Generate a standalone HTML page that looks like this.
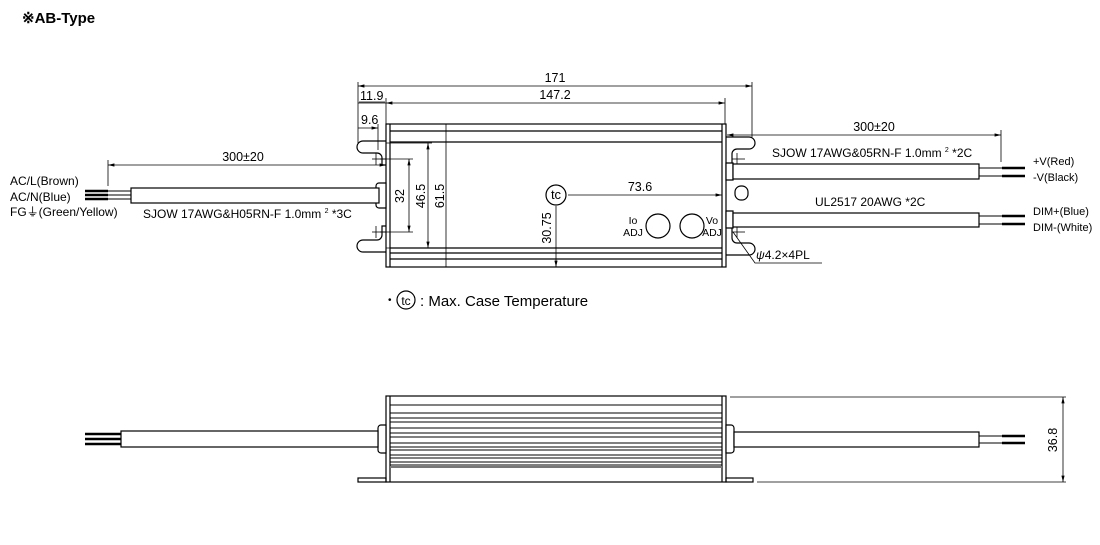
<!DOCTYPE html>
<html><head><meta charset="utf-8"><style>
html,body{margin:0;padding:0;background:#fff;}
svg{display:block;font-family:"Liberation Sans",Arial,sans-serif;}
</style></head><body>
<svg width="1100" height="545" viewBox="0 0 1100 545" xmlns="http://www.w3.org/2000/svg">
<defs>
<marker id="a" viewBox="0 0 10 6" refX="10" refY="3" markerWidth="8" markerHeight="5" orient="auto-start-reverse"><path d="M0,0.5L10,3L0,5.5z" fill="#000" stroke="none"/></marker>
</defs>
<text x="22" y="23" font-size="15" font-weight="bold">※AB-Type</text>
<g stroke="#000" fill="none" stroke-width="1.2">
<rect x="386" y="124" width="340" height="143" fill="#fff"/>
<line x1="390" y1="124" x2="390" y2="267"/><line x1="722" y1="124" x2="722" y2="267"/>
<line x1="390" y1="131" x2="722" y2="131"/><line x1="390" y1="142" x2="722" y2="142"/>
<line x1="390" y1="248" x2="722" y2="248"/><line x1="390" y1="253" x2="722" y2="253"/><line x1="390" y1="259" x2="722" y2="259"/>
<line x1="446" y1="124" x2="446" y2="267" stroke-width="0.8"/>
<path d="M386,141 H363 a6,6 0 0 0 0,12 H377 a5,5 0 0 1 5,5 V165 H386"/>
<path d="M386,252 H363 a6,6 0 0 1 0,-12 H377 a5,5 0 0 0 5,-5 V226 H386"/>
<path d="M379,183 h7 v25 h-7 a3,3 0 0 1 -3,-3 v-19 a3,3 0 0 1 3,-3z" fill="#fff"/>
<line x1="372" y1="159" x2="386" y2="159" stroke-width="0.8"/><line x1="376" y1="153" x2="376" y2="165" stroke-width="0.8"/>
<line x1="372" y1="232" x2="386" y2="232" stroke-width="0.8"/><line x1="376" y1="226" x2="376" y2="238" stroke-width="0.8"/>
<path d="M726,137 H749 a6,6 0 0 1 0,12 H737 a5,5 0 0 0 -5,5 V165 H726"/>
<path d="M726,255 H749 a6,6 0 0 0 0,-12 H737 a5,5 0 0 1 -5,-5 V226 H726"/>
<rect x="735" y="186" width="13" height="14" rx="6"/>
<path d="M733,163 h-7 v17 h7z" fill="#fff"/><path d="M733,211 h-7 v17 h7z" fill="#fff"/>
<line x1="732" y1="159" x2="745" y2="159" stroke-width="0.8"/><line x1="737" y1="153" x2="737" y2="165" stroke-width="0.8"/>
<line x1="732" y1="232" x2="745" y2="232" stroke-width="0.8"/><line x1="737" y1="226" x2="737" y2="238" stroke-width="0.8"/>
<g stroke-width="0.8">
<line x1="358" y1="86" x2="752" y2="86" marker-start="url(#a)" marker-end="url(#a)"/>
<line x1="358" y1="82" x2="358" y2="143"/><line x1="752" y1="82" x2="752" y2="137"/>
<line x1="386" y1="103" x2="725" y2="103" marker-start="url(#a)" marker-end="url(#a)"/>
<line x1="386" y1="98" x2="386" y2="124"/><line x1="725" y1="98" x2="725" y2="124"/>
<line x1="358" y1="103" x2="386" y2="103"/>
<line x1="358" y1="128" x2="378" y2="128" marker-end="url(#a)"/>
<line x1="378" y1="124" x2="378" y2="150"/>
<line x1="386" y1="143" x2="432" y2="143"/><line x1="386" y1="248" x2="432" y2="248"/>
<line x1="428" y1="143" x2="428" y2="248" marker-start="url(#a)" marker-end="url(#a)"/>
<line x1="380" y1="159" x2="413" y2="159"/><line x1="380" y1="232" x2="413" y2="232"/>
<line x1="409" y1="159" x2="409" y2="232" marker-start="url(#a)" marker-end="url(#a)"/>
<line x1="568" y1="195" x2="722" y2="195" marker-end="url(#a)"/>
<line x1="556" y1="206" x2="556" y2="267" marker-end="url(#a)"/>
<line x1="108" y1="165" x2="386" y2="165" marker-start="url(#a)" marker-end="url(#a)"/>
<line x1="108" y1="160" x2="108" y2="186"/>
<line x1="727" y1="135" x2="1001" y2="135" marker-start="url(#a)" marker-end="url(#a)"/>
<line x1="1001" y1="130" x2="1001" y2="162"/>
<polyline points="733,232 755,263 822,263"/>
</g>
<circle cx="556" cy="195" r="10"/>
<circle cx="658" cy="226" r="12"/><circle cx="692" cy="226" r="12"/>
<rect x="131" y="188" width="248" height="15" fill="#fff"/>
<g stroke-width="1"><line x1="85" y1="191" x2="131" y2="191"/><line x1="85" y1="195" x2="131" y2="195"/><line x1="85" y1="199" x2="131" y2="199"/></g>
<g stroke-width="2.5"><line x1="85" y1="191" x2="108" y2="191"/><line x1="85" y1="195" x2="108" y2="195"/><line x1="85" y1="199" x2="108" y2="199"/></g>
<rect x="733" y="164" width="246" height="15" fill="#fff"/>
<rect x="733" y="213" width="246" height="14" fill="#fff"/>
<g stroke-width="1"><line x1="979" y1="168" x2="1025" y2="168"/><line x1="979" y1="176" x2="1025" y2="176"/><line x1="979" y1="216" x2="1025" y2="216"/><line x1="979" y1="224" x2="1025" y2="224"/></g>
<g stroke-width="2.5"><line x1="1002" y1="168" x2="1025" y2="168"/><line x1="1002" y1="176" x2="1025" y2="176"/><line x1="1002" y1="216" x2="1025" y2="216"/><line x1="1002" y1="224" x2="1025" y2="224"/></g>

<rect x="386" y="396" width="340" height="86" fill="#fff"/>
<line x1="390" y1="396" x2="390" y2="482"/><line x1="722" y1="396" x2="722" y2="482"/>
<g stroke-width="0.9">
<line x1="390" y1="405" x2="722" y2="405"/><line x1="390" y1="413" x2="722" y2="413"/><line x1="390" y1="418" x2="722" y2="418"/>
<line x1="390" y1="422" x2="722" y2="422"/><line x1="390" y1="428" x2="722" y2="428"/><line x1="390" y1="433" x2="722" y2="433"/>
<line x1="390" y1="437" x2="722" y2="437"/><line x1="390" y1="443" x2="722" y2="443"/><line x1="390" y1="447" x2="722" y2="447"/>
<line x1="390" y1="450" x2="722" y2="450"/><line x1="390" y1="455" x2="722" y2="455"/><line x1="390" y1="458" x2="722" y2="458"/>
<line x1="390" y1="462" x2="722" y2="462"/><line x1="390" y1="465" x2="722" y2="465"/>
</g>
<line x1="390" y1="467" x2="722" y2="467" stroke="#777" stroke-width="2"/>
<rect x="358" y="478" width="28" height="4"/><rect x="726" y="478" width="27" height="4"/>
<path d="M386,425 h-5 a3,3 0 0 0 -3,3 v22 a3,3 0 0 0 3,3 h5z" fill="#fff"/>
<path d="M726,425 h5 a3,3 0 0 1 3,3 v22 a3,3 0 0 1 -3,3 h-5z" fill="#fff"/>
<rect x="121" y="431" width="257" height="16" fill="#fff"/>
<g stroke-width="2.5"><line x1="85" y1="434" x2="121" y2="434"/><line x1="85" y1="439" x2="121" y2="439"/><line x1="85" y1="444" x2="121" y2="444"/></g>
<rect x="734" y="432" width="245" height="15" fill="#fff"/>
<g stroke-width="1"><line x1="979" y1="436" x2="1025" y2="436"/><line x1="979" y1="443" x2="1025" y2="443"/></g>
<g stroke-width="2.5"><line x1="1002" y1="436" x2="1025" y2="436"/><line x1="1002" y1="443" x2="1025" y2="443"/></g>
<g stroke-width="0.8">
<line x1="730" y1="397" x2="1066" y2="397"/><line x1="757" y1="482" x2="1066" y2="482"/>
<line x1="1063" y1="397" x2="1063" y2="482" marker-start="url(#a)" marker-end="url(#a)"/>
</g>
<circle cx="406" cy="300" r="9"/>
</g>
<g font-size="12.5" fill="#000">
<text x="555" y="82" text-anchor="middle">171</text>
<text x="555" y="99" text-anchor="middle">147.2</text>
<text x="360" y="100">11.9</text><line x1="359" y1="102" x2="385" y2="102" stroke="#000" stroke-width="0.8"/>
<text x="361" y="124">9.6</text>
<text x="640" y="191" text-anchor="middle">73.6</text>
<text x="556" y="199" text-anchor="middle" font-size="13">tc</text>
<text transform="translate(404,196) rotate(-90)" text-anchor="middle">32</text>
<text transform="translate(425,196) rotate(-90)" text-anchor="middle">46.5</text>
<text transform="translate(444,196) rotate(-90)" text-anchor="middle">61.5</text>
<text transform="translate(551,228) rotate(-90)" text-anchor="middle">30.75</text>
<text x="633" y="224" font-size="10.5" text-anchor="middle">Io</text><text x="633" y="236" font-size="10.5" text-anchor="middle">ADJ</text>
<text x="712" y="224" font-size="10.5" text-anchor="middle">Vo</text><text x="712" y="236" font-size="10.5" text-anchor="middle">ADJ</text>
<text x="243" y="161" text-anchor="middle">300±20</text>
<text x="10" y="185" font-size="12">AC/L(Brown)</text>
<text x="10" y="201" font-size="12">AC/N(Blue)</text>
<text x="10" y="216" font-size="12">FG⏚(Green/Yellow)</text>
<text x="143" y="218" font-size="12">SJOW 17AWG&amp;H05RN-F 1.0mm <tspan font-size="7" dy="-5">2</tspan><tspan dy="5"> *3C</tspan></text>
<text x="874" y="131" text-anchor="middle">300±20</text>
<text x="772" y="157" font-size="12">SJOW 17AWG&amp;05RN-F 1.0mm <tspan font-size="7" dy="-5">2</tspan><tspan dy="5"> *2C</tspan></text>
<text x="815" y="206" font-size="12">UL2517 20AWG *2C</text>
<text x="1033" y="165" font-size="11">+V(Red)</text>
<text x="1033" y="181" font-size="11">-V(Black)</text>
<text x="1033" y="215" font-size="11">DIM+(Blue)</text>
<text x="1033" y="231" font-size="11">DIM-(White)</text>
<text x="756" y="259" font-size="12"><tspan font-style="italic">ψ</tspan>4.2×4PL</text>
<text x="388" y="303" font-size="10">•</text>
<text x="406" y="305" font-size="12" text-anchor="middle">tc</text>
<text x="420" y="306" font-size="15">: Max. Case Temperature</text>
<text transform="translate(1057,440) rotate(-90)" text-anchor="middle">36.8</text>
</g>
</svg>
</body></html>
